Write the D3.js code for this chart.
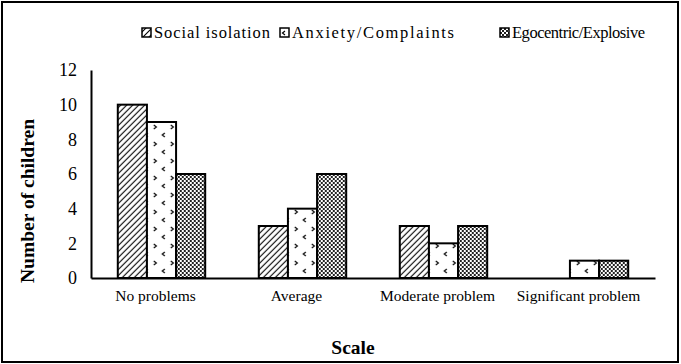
<!DOCTYPE html>
<html><head><meta charset="utf-8">
<script src="https://cdn.jsdelivr.net/npm/d3@7/dist/d3.min.js"></script>
</head><body>
<script>
const categories = ["No problems", "Average", "Moderate problem", "Significant problem"];
const seriesNames = ["Social isolation", "Anxiety/Complaints", "Egocentric/Explosive"];
const socialIsolation = [10, 3, 3, 0];
const anxietyComplaints = [9, 4, 2, 1];
const egocentricExplosive = [6, 6, 3, 1];
const yTicks = [0, 2, 4, 6, 8, 10, 12];
const seriesValues = [socialIsolation, anxietyComplaints, egocentricExplosive];

const W = 681, H = 364;
const mLeft = 91, mRight = 655, mTop = 70, mBottom = 278;
const FONT = '"Liberation Serif"';

d3.select("body").style("margin", "0px").style("background", "#fff");
const svg = d3.select("body").append("svg").attr("width", W).attr("height", H).style("display", "block");
const defs = svg.append("defs");

// hatch pattern
const p1 = defs.append("pattern").attr("id", "pat0").attr("patternUnits", "userSpaceOnUse")
  .attr("width", 6).attr("height", 6);
p1.append("rect").attr("width", 6).attr("height", 6).attr("fill", "#fff");
p1.append("path").attr("d", "M-1,7 L7,-1 M-4,4 L4,-4 M2,10 L10,2").attr("stroke", "#000").attr("stroke-width", 1.1);

// dotted chevrons pattern
const p2 = defs.append("pattern").attr("id", "pat1").attr("patternUnits", "userSpaceOnUse")
  .attr("width", 17).attr("height", 17);
p2.append("rect").attr("width", 17).attr("height", 17).attr("fill", "#fff");
p2.append("path").attr("d", "M2,6 L4.5,8 L2,10").attr("fill", "none").attr("stroke", "#000").attr("stroke-width", 1.2);
p2.append("path").attr("d", "M13,14 L10.5,16 L13,18 M13,-3 L10.5,-1 L13,1").attr("fill", "none").attr("stroke", "#000").attr("stroke-width", 1.2);

// checkerboard
const p3 = defs.append("pattern").attr("id", "pat2").attr("patternUnits", "userSpaceOnUse")
  .attr("width", 4).attr("height", 4);
p3.append("rect").attr("width", 4).attr("height", 4).attr("fill", "#fff");
p3.append("rect").attr("width", 2).attr("height", 2).attr("fill", "#222");
p3.append("rect").attr("x", 2).attr("y", 2).attr("width", 2).attr("height", 2).attr("fill", "#222");

// outer border
svg.append("rect").attr("x", 2).attr("y", 2).attr("width", W - 5).attr("height", H - 4)
  .attr("fill", "none").attr("stroke", "#000").attr("stroke-width", 2);

const x = d3.scaleBand().domain(categories).range([mLeft, mRight]).paddingInner(0.38).paddingOuter(0.19);
const xs = d3.scaleBand().domain(seriesNames).range([0, x.bandwidth()]);
const y = d3.scaleLinear().domain([0, 12]).range([mBottom, mTop]);

// y axis
const yAxis = svg.append("g").attr("transform", `translate(${mLeft},0)`)
  .call(d3.axisLeft(y).tickValues(yTicks).tickSize(0).tickPadding(14).tickFormat(d3.format("d")));
yAxis.attr("font-family", null).attr("font-size", null);
yAxis.select(".domain").attr("stroke", "#000").attr("stroke-width", 2);
yAxis.selectAll("text").style("font-family", FONT).style("font-size", "18px").attr("fill", "#000");

// bars
const groups = svg.append("g").selectAll("g").data(categories).join("g")
  .attr("transform", d => `translate(${x(d)},0)`);
seriesNames.forEach((s, si) => {
  groups.each(function (c, ci) {
    const v = seriesValues[si][ci];
    if (v <= 0) return;
    d3.select(this).append("rect")
      .attr("x", xs(s)).attr("y", y(v))
      .attr("width", xs.bandwidth()).attr("height", y(0) - y(v))
      .attr("fill", `url(#pat${si})`).attr("stroke", "#000").attr("stroke-width", 2);
  });
});

// x axis
const xAxis = svg.append("g").attr("transform", `translate(0,${mBottom})`)
  .call(d3.axisBottom(x).tickSize(0).tickPadding(12));
xAxis.attr("font-family", null).attr("font-size", null);
xAxis.select(".domain").attr("stroke", "#000").attr("stroke-width", 2);
xAxis.selectAll("text").style("font-family", FONT).style("font-size", "15.5px").attr("fill", "#000").attr("dx", -6);

// axis titles
svg.append("text").attr("transform", "translate(34,201) rotate(-90)")
  .attr("text-anchor", "middle").style("font-family", FONT).style("font-weight", "bold")
  .style("font-size", "19.5px").text("Number of children");
svg.append("text").attr("x", 353).attr("y", 354)
  .attr("text-anchor", "middle").style("font-family", FONT).style("font-weight", "bold")
  .style("font-size", "19.5px").text("Scale");

// legend
const legX = [142, 280, 500];
const legLen = [116, 162, 133];
const leg = svg.append("g");
seriesNames.forEach((s, i) => {
  leg.append("rect").attr("x", legX[i]).attr("y", 28).attr("width", 9).attr("height", 9)
    .attr("fill", `url(#pat${i})`).attr("stroke", "#000").attr("stroke-width", 1.5);
  leg.append("text").attr("x", legX[i] + 12).attr("y", 38)
    .attr("textLength", legLen[i]).attr("lengthAdjust", "spacing")
    .style("font-family", FONT).style("font-size", "16.5px").text(s);
});
</script>
</body></html>
